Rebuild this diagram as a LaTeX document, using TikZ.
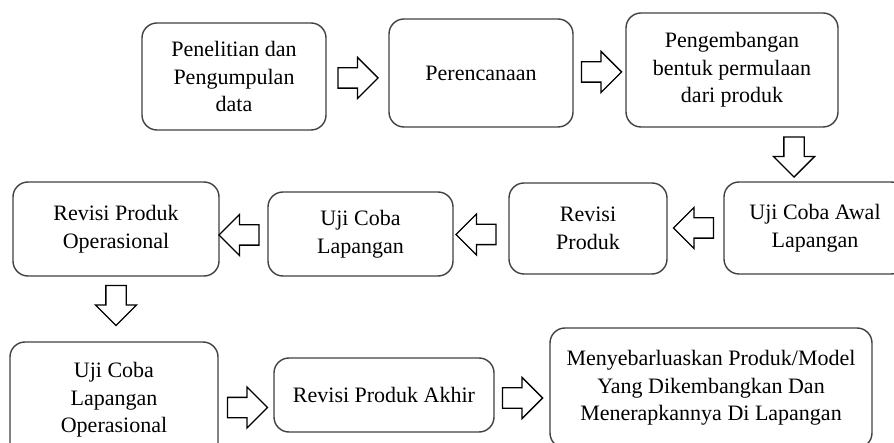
\documentclass[tikz,border=0pt]{standalone}
\usepackage{fontspec}
\setmainfont{Liberation Serif}
\usetikzlibrary{calc, shapes, positioning}
\tikzstyle{tahap} = [draw=black!75, line width=1.4pt, rounded corners=15pt, align=center, inner sep=0pt, font=\fontsize{22}{27.5}\selectfont]
\tikzstyle{panah} = [draw=black, line width=1.3pt, single arrow, minimum height=40pt, minimum width=40pt, single arrow head extend=10.5pt, inner sep=9.5pt, fill=white]

\begin{document}
\begin{tikzpicture}[x=1pt, y=-1pt]
	\useasboundingbox (0,0) rectangle (894,443);
	\clip (0,0) rectangle (894,443);
	% baris atas
	\node[tahap, minimum width=184pt, minimum height=107pt] (pel) at (234,76.5) {Penelitian dan\\Pengumpulan\\data};
	\node[tahap, minimum width=184pt, minimum height=108pt] (ren) at (481,73) {Perencanaan};
	\node[tahap, minimum width=212pt, minimum height=114pt] (pgb) at (732,70) {Pengembangan\\bentuk permulaan\\dari produk};
	% baris tengah
	\node[tahap, minimum width=182pt, minimum height=92pt] (ujiawal) at (815,228) {Uji Coba Awal\\Lapangan};
	\node[tahap, minimum width=158pt, minimum height=91pt] (rev) at (588,228.5) {Revisi\\Produk};
	\node[tahap, minimum width=185pt, minimum height=84pt] (ujilap) at (360.5,234) {Uji Coba\\Lapangan};
	\node[tahap, minimum width=206pt, minimum height=94pt] (revop) at (116,229) {Revisi Produk\\Operasional};
	% baris bawah
	\node[tahap, minimum width=208pt, minimum height=116pt] (ujiop) at (114,400) {Uji Coba\\Lapangan\\Operasional};
	\node[tahap, minimum width=220pt, minimum height=74pt] (akhir) at (384,395) {Revisi Produk Akhir};
	\node[tahap, minimum width=322pt, minimum height=120pt] (sebar) at (711,388) {Menyebarluaskan Produk/Model\\Yang Dikembangkan Dan\\Menerapkannya Di Lapangan};
	% panah
	\node[panah] (p1) at (353,78) {};
	\node[panah] (p2) at (596.5,72) {};
	\node[panah, shape border rotate=270] (p3) at (794,152) {};
	\node[panah, shape border rotate=180] (p4) at (698.5,228) {};
	\node[panah, shape border rotate=180] (p5) at (481,234.5) {};
	\node[panah, shape border rotate=180] (p6) at (244,235) {};
	\node[panah, shape border rotate=270] (p7) at (116,300.5) {};
	\node[panah] (p8) at (242.5,407.5) {};
	\node[panah] (p9) at (517.5,398) {};
\end{tikzpicture}
\end{document}
